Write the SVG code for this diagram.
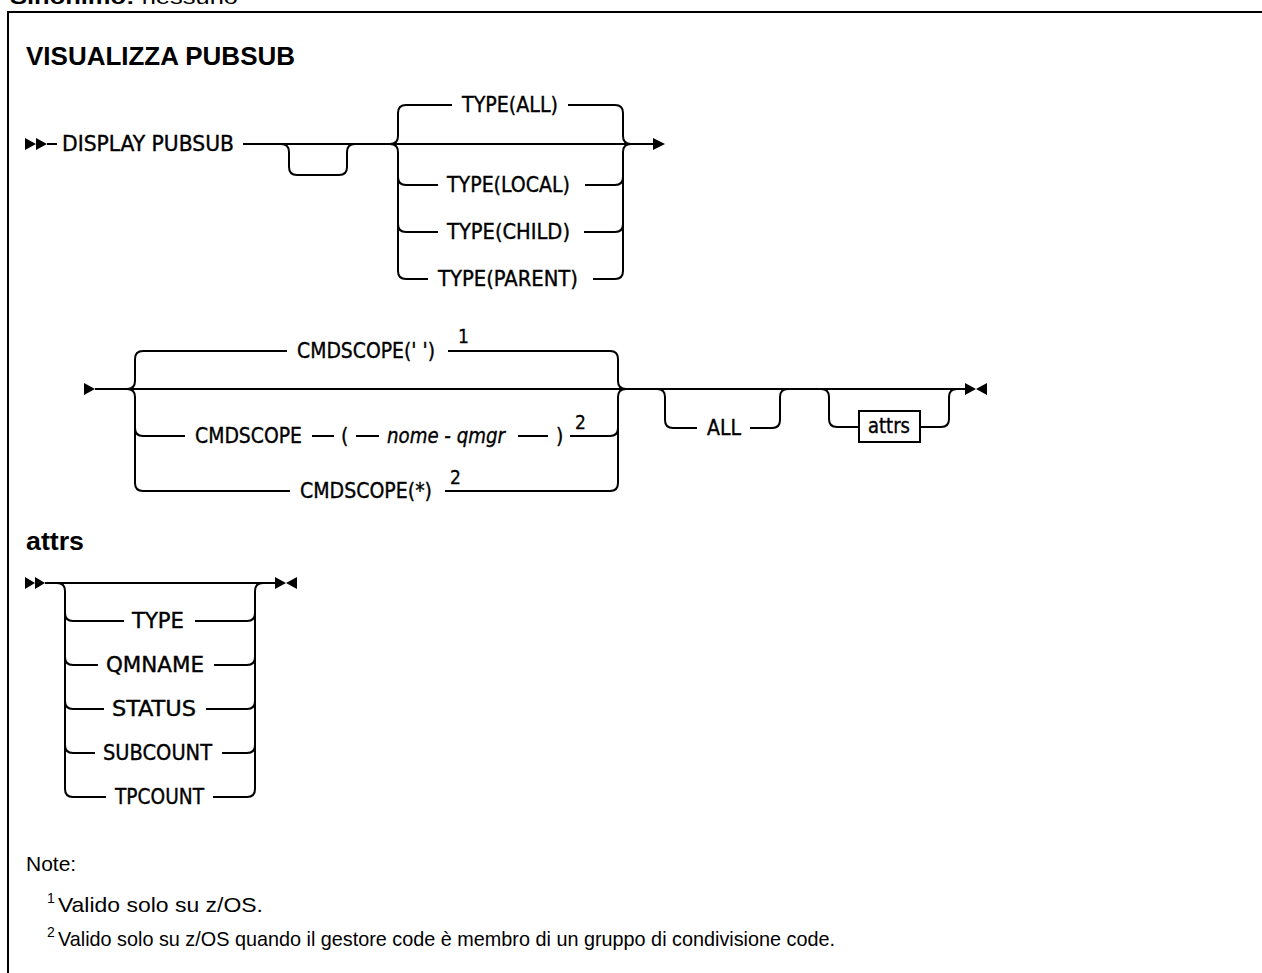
<svg xmlns="http://www.w3.org/2000/svg" width="1262" height="973" viewBox="0 0 1262 973">
<style>
.l{fill:none;stroke:#000;stroke-width:2}
.a{fill:#000;stroke:none}
.t{font-family:'DejaVu Sans Condensed','DejaVu Sans',sans-serif;font-stretch:condensed;font-size:21px;fill:#000;stroke:#000;stroke-width:0.35}
.i{font-style:italic}
.s{font-family:'DejaVu Sans Condensed','DejaVu Sans',sans-serif;font-stretch:condensed;font-size:19px;fill:#000;stroke:#000;stroke-width:0.3}
.h{font-family:'Liberation Sans',Arial,sans-serif;font-weight:bold;font-size:25px;fill:#000}
.n{font-family:'Liberation Sans',Arial,sans-serif;font-size:21px;fill:#000}
.ns{font-family:'Liberation Sans',Arial,sans-serif;font-size:14px;fill:#000}
</style>
<rect width="1262" height="973" fill="#fff"/>
<g id="header">
<text x="10" y="3.5" class="n" textLength="228" lengthAdjust="spacingAndGlyphs"><tspan font-weight="bold">Sinonimo:</tspan> nessuno</text>
</g>
<path class="l" d="M8 973 V12 H1262"/>
<g id="title"><text x="26" y="65" class="h" textLength="269" lengthAdjust="spacingAndGlyphs">VISUALIZZA PUBSUB</text></g>

<g id="connectors">
<!-- line 1 -->
<path class="a" d="M25 138 L36 144 L25 150 Z M36 138 L47 144 L36 150 Z"/>
<path class="l" d="M47 144 H57"/>
<path class="l" d="M243 144 H653"/>
<path class="l" d="M281 144 Q289 144 289 152 V167 Q289 175 297 175 H339 Q347 175 347 167 V152 Q347 144 355 144"/>
<path class="l" d="M390 144 Q398 144 398 136 V113 Q398 105 406 105 H452 M568 105 H615 Q623 105 623 113 V136 Q623 144 631 144"/>
<path class="l" d="M390 144 Q398 144 398 152 V271 Q398 279 406 279 H428 M593 279 H615 Q623 279 623 271 V152 Q623 144 631 144"/>
<path class="l" d="M398 177 Q398 185 406 185 H438 M585 185 H615 Q623 185 623 177"/>
<path class="l" d="M398 224 Q398 232 406 232 H438 M584 232 H615 Q623 232 623 224"/>
<path class="a" d="M653 138 L665 144 L653 150 Z"/>
<!-- line 2 -->
<path class="a" d="M84 383 L95 389 L84 395 Z"/>
<path class="l" d="M95 389 H966"/>
<path class="l" d="M127 389 Q135 389 135 381 V359 Q135 351 143 351 H287 M448 351 H610 Q618 351 618 359 V381 Q618 389 626 389"/>
<path class="l" d="M127 389 Q135 389 135 397 V483 Q135 491 143 491 H290 M445 491 H610 Q618 491 618 483 V397 Q618 389 626 389"/>
<path class="l" d="M135 428 Q135 436 143 436 H185 M312 436 H334 M356 436 H379 M518 436 H548 M570 436 H610 Q618 436 618 428"/>
<path class="l" d="M657 389 Q665 389 665 397 V420 Q665 428 673 428 H697 M750 428 H772 Q780 428 780 420 V397 Q780 389 788 389"/>
<path class="l" d="M821 389 Q829 389 829 397 V419 Q829 427 837 427 H859 M920 427 H941 Q949 427 949 419 V397 Q949 389 957 389"/>
<path class="a" d="M965 383 L976 389 L965 395 Z M987 383 L976 389 L987 395 Z"/>
<!-- attrs -->
<path class="a" d="M25 577 L35 583 L25 589 Z M35 577 L45 583 L35 589 Z"/>
<path class="l" d="M45 583 H275"/>
<path class="l" d="M57 583 Q65 583 65 591 V789 Q65 797 73 797 H106 M213 797 H247 Q255 797 255 789 V591 Q255 583 263 583"/>
<path class="l" d="M65 613 Q65 621 73 621 H124 M195 621 H247 Q255 621 255 613"/>
<path class="l" d="M65 657 Q65 665 73 665 H98 M214 665 H247 Q255 665 255 657"/>
<path class="l" d="M65 701 Q65 709 73 709 H104 M206 709 H247 Q255 709 255 701"/>
<path class="l" d="M65 745 Q65 753 73 753 H95 M222 753 H247 Q255 753 255 745"/>
<path class="a" d="M275 577 L286 583 L275 589 Z M297 577 L286 583 L297 589 Z"/>
</g>

<g id="n-display"><text x="62" y="151" class="t" textLength="172" lengthAdjust="spacingAndGlyphs">DISPLAY PUBSUB</text></g>
<g id="n-type-all"><text x="462" y="112" class="t" textLength="96" lengthAdjust="spacingAndGlyphs">TYPE(ALL)</text></g>
<g id="n-type-local"><text x="447" y="192" class="t" textLength="123" lengthAdjust="spacingAndGlyphs">TYPE(LOCAL)</text></g>
<g id="n-type-child"><text x="447" y="239" class="t" textLength="123" lengthAdjust="spacingAndGlyphs">TYPE(CHILD)</text></g>
<g id="n-type-parent"><text x="438" y="286" class="t" textLength="140" lengthAdjust="spacingAndGlyphs">TYPE(PARENT)</text></g>

<g id="n-cmdscope-blank"><text x="297" y="358" class="t" textLength="138" lengthAdjust="spacingAndGlyphs">CMDSCOPE(' ')</text><text x="458" y="343" class="s">1</text></g>
<g id="n-cmdscope-qmgr">
<text x="195" y="443" class="t" textLength="107" lengthAdjust="spacingAndGlyphs">CMDSCOPE</text>
<text x="341" y="443" class="t">(</text>
<text x="387" y="443" class="t i" textLength="118" lengthAdjust="spacingAndGlyphs">nome - qmgr</text>
<text x="556" y="443" class="t">)</text>
<text x="575" y="429" class="s">2</text>
</g>
<g id="n-cmdscope-star"><text x="300" y="498" class="t" textLength="132" lengthAdjust="spacingAndGlyphs">CMDSCOPE(*)</text><text x="450" y="484" class="s">2</text></g>
<g id="n-all"><text x="707" y="435" class="t" textLength="34" lengthAdjust="spacingAndGlyphs">ALL</text></g>
<g id="n-attrs-ref"><rect x="859" y="411" width="61" height="31" class="l"/><text x="868" y="433" class="t" textLength="42" lengthAdjust="spacingAndGlyphs">attrs</text></g>

<g id="attrs-title"><text x="26" y="550" class="h" textLength="58" lengthAdjust="spacingAndGlyphs">attrs</text></g>
<g id="n-a-type"><text x="132" y="628" class="t" textLength="52" lengthAdjust="spacingAndGlyphs">TYPE</text></g>
<g id="n-a-qmname"><text x="106" y="672" class="t" textLength="98" lengthAdjust="spacingAndGlyphs">QMNAME</text></g>
<g id="n-a-status"><text x="112" y="716" class="t" textLength="84" lengthAdjust="spacingAndGlyphs">STATUS</text></g>
<g id="n-a-subcount"><text x="103" y="760" class="t" textLength="109" lengthAdjust="spacingAndGlyphs">SUBCOUNT</text></g>
<g id="n-a-tpcount"><text x="115" y="804" class="t" textLength="89" lengthAdjust="spacingAndGlyphs">TPCOUNT</text></g>

<g id="notes">
<text x="26" y="871" class="n">Note:</text>
<text x="47" y="903" class="ns">1</text>
<text x="58" y="912" class="n" textLength="205" lengthAdjust="spacingAndGlyphs">Valido solo su z/OS.</text>
<text x="47" y="937" class="ns">2</text>
<text x="58" y="946" class="n" textLength="777" lengthAdjust="spacingAndGlyphs">Valido solo su z/OS quando il gestore code è membro di un gruppo di condivisione code.</text>
</g>
</svg>
